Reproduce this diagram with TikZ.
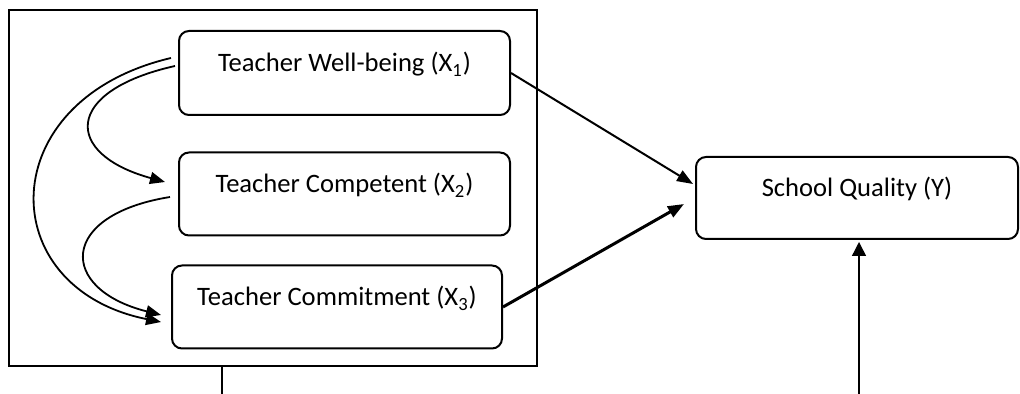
\documentclass[tikz,border=0pt]{standalone}
\usepackage{fontspec}
\setmainfont{Carlito}
\usetikzlibrary{arrows.meta,positioning}

\begin{document}
\begin{tikzpicture}[x=0.5pt,y=-0.5pt]
	\tikzstyle{Box}		= [draw, rounded corners=5pt, line width=1pt, inner sep=0pt, text height=10pt, text depth=11pt, font=\fontsize{13.3}{16}\selectfont]
	\tikzstyle{Frame}	= [draw, line width=1pt, inner sep=0pt]
	\tikzstyle{Loop}	= [line width=0.9pt, -{Triangle[length=7.5pt,width=6pt]}]
	\tikzstyle{Effect}	= [line width=1pt, -{Triangle[length=8pt,width=6pt]}]
	\tikzstyle{Strong}	= [line width=1.5pt]
	\tikzstyle{Feed}	= [line width=0.7pt, -{Triangle[length=7pt,width=7pt]}]
	\tikzstyle{Stub}	= [line width=0.6pt]

	\useasboundingbox (0,0) rectangle (1020,394);

	\node (frame) at (273,188) [Frame, minimum width=264pt, minimum height=177.5pt] {};
	\node (x1) at (344.5,73) [Box, minimum width=165.5pt, minimum height=42pt] {Teacher Well-being (X\textsubscript{1})};
	\node (x2) at (344.5,194) [Box, minimum width=165.5pt, minimum height=41.5pt] {Teacher Competent (X\textsubscript{2})};
	\node (x3) at (337,307) [Box, minimum width=165pt, minimum height=41.5pt] {Teacher Commitment (X\textsubscript{3})};
	\node (y) at (857,198) [Box, minimum width=161pt, minimum height=41pt] {School Quality (Y)};

	\coordinate (xfoot) at (222,394);
	\coordinate (yfoot) at (859,394);

	% curved links on the left
	\draw [Loop] ([xshift=-1.5pt,yshift=3.5pt]x1.west) .. controls (63,91) and (63,154) .. ([xshift=-6.5pt,yshift=6pt]x2.west);
	\draw [Loop] ([xshift=-3.5pt,yshift=7.5pt]x1.west) .. controls (-8,100) and (-8,288) .. ([xshift=-5pt,yshift=-7.5pt]x3.west);
	\draw [Loop] ([xshift=-4pt,yshift=-1.5pt]x2.west) .. controls (58,215) and (58,289) .. ([xshift=-5pt,yshift=-4pt]x3.west);

	% effects on school quality
	\draw [Effect] (x1.east) to ([xshift=-1pt,yshift=7pt]y.west);
	\draw [Effect][Strong] (x3.east) to ([xshift=-5.5pt,yshift=-3pt]y.west);
	\draw [Feed] (yfoot) to ([yshift=-1pt]yfoot |- y.south);
	\draw [Stub] (xfoot |- frame.south) to (xfoot);
\end{tikzpicture}
\end{document}
